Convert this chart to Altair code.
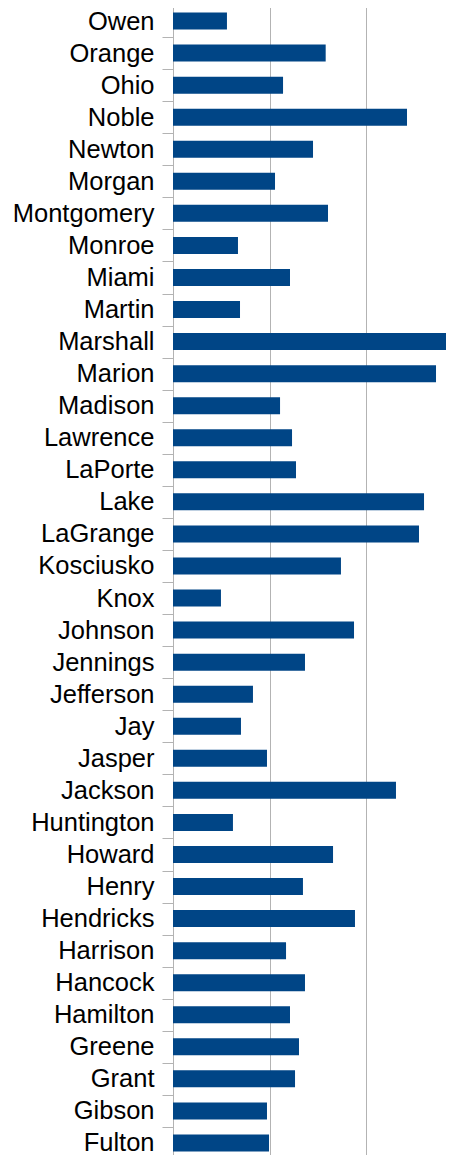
import altair as alt
import pandas as pd

counties = ["Owen", "Orange", "Ohio", "Noble", "Newton", "Morgan", "Montgomery", "Monroe",
            "Miami", "Martin", "Marshall", "Marion", "Madison", "Lawrence", "LaPorte", "Lake",
            "LaGrange", "Kosciusko", "Knox", "Johnson", "Jennings", "Jefferson", "Jay", "Jasper",
            "Jackson", "Huntington", "Howard", "Henry", "Hendricks", "Harrison", "Hancock",
            "Hamilton", "Greene", "Grant", "Gibson", "Fulton"]
values = [5.58, 15.79, 11.38, 24.2, 14.48, 10.55, 16.03, 6.72,
          12.1, 6.93, 29.0, 27.2, 11.07, 12.31, 12.72, 25.96,
          25.44, 17.37, 4.96, 18.72, 13.65, 8.27, 7.03, 9.72,
          23.06, 6.2, 16.55, 13.44, 18.82, 11.69, 13.65,
          12.1, 13.03, 12.62, 9.72, 9.93]
grid_values = [0, 10, 20]
x_max = 29.06

df = pd.DataFrame({"county": counties, "value": values})

chart = alt.Chart(df).mark_bar(
    color="#004586", clip=True, height=alt.RelativeBandSize(band=0.53)
).encode(
    x=alt.X("value:Q",
            scale=alt.Scale(domain=[0, x_max], nice=False, zero=True),
            axis=alt.Axis(title=None, labels=False, ticks=False, domain=False, grid=True,
                          values=grid_values, gridColor="#b3b3b3", gridWidth=1,
                          minExtent=0, maxExtent=0)),
    y=alt.Y("county:N", sort=counties,
            scale=alt.Scale(paddingInner=0, paddingOuter=0),
            axis=alt.Axis(title=None, tickBand="extent", tickSize=11, tickColor="#b3b3b3",
                          domainColor="#b3b3b3", labelFont="Liberation Sans", labelFontSize=25.5,
                          labelColor="#000000", labelPadding=8, minExtent=165, maxExtent=165,
                          labelLimit=200, grid=False)),
).properties(
    width=281, height=1154,
    padding={"left": 0, "top": -15, "right": -8, "bottom": -5},
).configure_view(stroke=None)

chart.save("out.html", embed_options={"renderer": "svg", "actions": False})
